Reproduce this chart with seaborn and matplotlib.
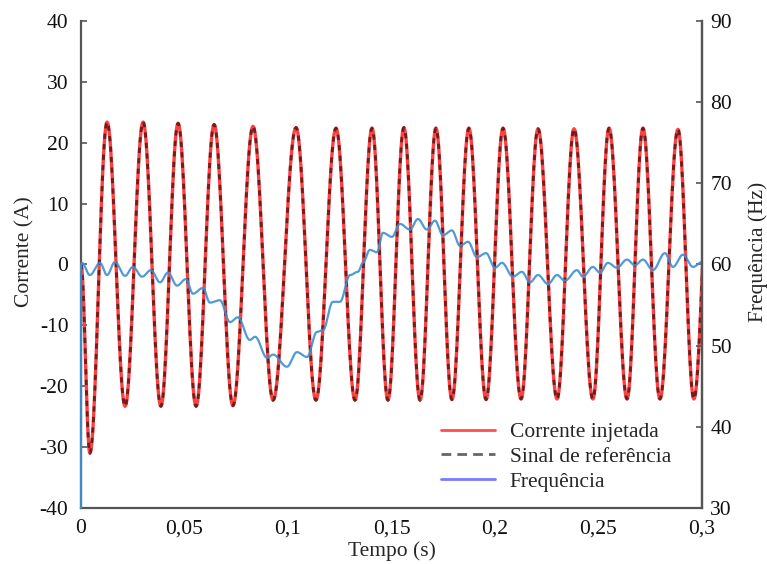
import numpy as np
import pandas as pd
import matplotlib
matplotlib.use("Agg")
import matplotlib.pyplot as plt
from matplotlib.lines import Line2D
import seaborn as sns

# ---------------- data ----------------
# extrema of the injected current (time in s, current in A)
current_t = [0.0, 0.0043, 0.0126, 0.0213, 0.0300, 0.0386, 0.0469, 0.0556, 0.0643,
             0.0734, 0.0831, 0.0928, 0.1039, 0.1135, 0.1232, 0.1324, 0.1406, 0.1483,
             0.1560, 0.1638, 0.1715, 0.1792, 0.1874, 0.1957, 0.2039, 0.2126, 0.2208,
             0.2300, 0.2382, 0.2473, 0.2551, 0.2638, 0.2715, 0.2797, 0.2884, 0.2961,
             0.3045]
current_v = [0.0, -31.0, 23.4, -23.3, 23.4, -23.3, 23.2, -23.3, 23.0,
             -23.2, 22.7, -22.3, 22.5, -22.3, 22.4, -22.3, 22.4, -22.3,
             22.5, -22.3, 22.4, -22.2, 22.4, -22.2, 22.4, -22.1, 22.3,
             -22.1, 22.3, -22.1, 22.4, -22.1, 22.4, -22.1, 22.2, -22.1,
             22.0]

# frequency (time in s, frequency in Hz)
freq_t = [0.0, 0.0, 0.0005, 0.0043, 0.0092, 0.0126, 0.0164, 0.0213, 0.0251, 0.0295,
          0.0338, 0.0382, 0.0420, 0.0464, 0.0507, 0.0541, 0.0589, 0.0623, 0.0671,
          0.0720, 0.0758, 0.0816, 0.0841, 0.0899, 0.0928, 0.0995, 0.1043, 0.1092,
          0.1140, 0.1169, 0.1217, 0.1251, 0.1300, 0.1338, 0.1362, 0.1396, 0.1430,
          0.1459, 0.1502, 0.1541, 0.1589, 0.1628, 0.1671, 0.1710, 0.1749, 0.1792,
          0.1831, 0.1870, 0.1913, 0.1957, 0.2000, 0.2034, 0.2087, 0.2130, 0.2169,
          0.2208, 0.2256, 0.2300, 0.2338, 0.2396, 0.2425, 0.2473, 0.2507, 0.2546,
          0.2589, 0.2638, 0.2676, 0.2715, 0.2763, 0.2821, 0.2860, 0.2908, 0.2957,
          0.3000]
freq_v = [30.0, 60.0, 60.2, 58.7, 60.2, 58.7, 60.3, 58.6, 59.7, 58.5,
          59.3, 57.8, 59.0, 57.4, 58.2, 56.4, 57.1, 55.3, 55.6,
          52.9, 53.5, 50.7, 51.1, 48.5, 48.9, 47.4, 49.2, 48.6,
          51.7, 51.9, 55.4, 55.4, 58.7, 59.1, 60.2, 61.8, 61.5,
          63.9, 63.4, 65.0, 64.3, 65.6, 64.3, 65.4, 63.6, 64.2,
          62.3, 62.8, 60.9, 61.4, 59.6, 60.2, 58.5, 59.1, 57.8,
          58.7, 57.6, 58.7, 58.0, 59.3, 58.5, 59.7, 59.0, 60.2,
          59.6, 60.6, 59.9, 60.6, 59.3, 61.4, 59.7, 61.2, 59.7,
          60.3]

x_ticks = [0, 0.05, 0.1, 0.15, 0.2, 0.25, 0.3]
x_tick_labels = ["0", "0,05", "0,1", "0,15", "0,2", "0,25", "0,3"]
left_ticks = [-40, -30, -20, -10, 0, 10, 20, 30, 40]
right_ticks = [30, 40, 50, 60, 70, 80, 90]


# smooth drawing between consecutive read points (half-cosine easing)
def smooth_between(ts, vs, n=24):
    xs, ys = [], []
    for i in range(len(ts) - 1):
        if ts[i + 1] == ts[i]:
            xs.append(ts[i]); ys.append(vs[i]); continue
        s = np.linspace(0, 1, n, endpoint=False)
        w = (1 - np.cos(np.pi * s)) / 2
        xs.extend(ts[i] + (ts[i + 1] - ts[i]) * s)
        ys.extend(vs[i] + (vs[i + 1] - vs[i]) * w)
    xs.append(ts[-1]); ys.append(vs[-1])
    return np.array(xs), np.array(ys)


cx, cy = smooth_between(current_t, current_v, 24)
df_cur = pd.DataFrame({"t": cx, "i": cy})
fx, fy = smooth_between(freq_t, freq_v, 12)
df_freq = pd.DataFrame({"t": fx, "f": fy})

# ---------------- figure ----------------
sns.set_theme(style="white")
plt.rcParams["font.family"] = ["Liberation Serif", "DejaVu Serif"]
plt.rcParams["axes.unicode_minus"] = False

fig = plt.figure(figsize=(7.67, 5.64), dpi=100)
ax = fig.add_axes([0.1056, 0.0993, 0.8096, 0.8635])
ax2 = ax.twinx()

sns.lineplot(data=df_cur, x="t", y="i", ax=ax, sort=False, estimator=None,
             color="#ff4040", linewidth=2.4)
sns.lineplot(data=df_cur, x="t", y="i", ax=ax, sort=False, estimator=None,
             color="#000000", linewidth=2.1, alpha=0.55,
             linestyle=(0, (1.8, 1.8)))
sns.lineplot(data=df_freq, x="t", y="f", ax=ax2, sort=False, estimator=None,
             color="#3d8fd1", linewidth=1.6, alpha=0.9, clip_on=False)

ax.set_xlim(0, 0.3)
ax.set_ylim(-40, 40)
ax2.set_ylim(30, 90)
ax.set_xticks(x_ticks)
ax.set_xticklabels(x_tick_labels)
ax.set_yticks(left_ticks)
ax2.set_yticks(right_ticks)

fs = 15.5
ax.set_xlabel("Tempo (s)", fontsize=fs, labelpad=2)
ax.set_ylabel("Corrente (A)", fontsize=fs, labelpad=4)
ax2.set_ylabel("Frequência (Hz)", fontsize=fs, rotation=90, labelpad=12)
ax.yaxis.label.set_y(0.526)
ax2.yaxis.label.set_y(0.526)

for a in (ax, ax2):
    a.grid(False)
    a.spines["top"].set_visible(False)
    for sp in ("left", "right", "bottom"):
        a.spines[sp].set_color("#555555")
        a.spines[sp].set_linewidth(1.6)
    a.tick_params(direction="in", length=4, width=1.2, color="#555555",
                  labelsize=fs, labelcolor="#111111", pad=6)
ax.tick_params(axis="y", pad=9)
ax.tick_params(axis="x", pad=8)
ax2.spines["left"].set_visible(False)
ax2.spines["bottom"].set_visible(False)

handles = [
    Line2D([], [], color="#ff4d4d", linewidth=2.0),
    Line2D([], [], color="#666666", linewidth=2.0, linestyle=(0, (3.5, 2.2))),
    Line2D([], [], color="#7a7aff", linewidth=2.0),
]
labels = ["Corrente injetada", "Sinal de referência", "Frequência"]
leg = ax2.legend(handles, labels, loc="lower left",
                 bbox_to_anchor=(0.559, 0.007), frameon=False, fontsize=fs,
                 handlelength=2.5, handletextpad=0.7, labelspacing=0.22,
                 borderaxespad=0.2)

fig.savefig("out.png", dpi=100)
